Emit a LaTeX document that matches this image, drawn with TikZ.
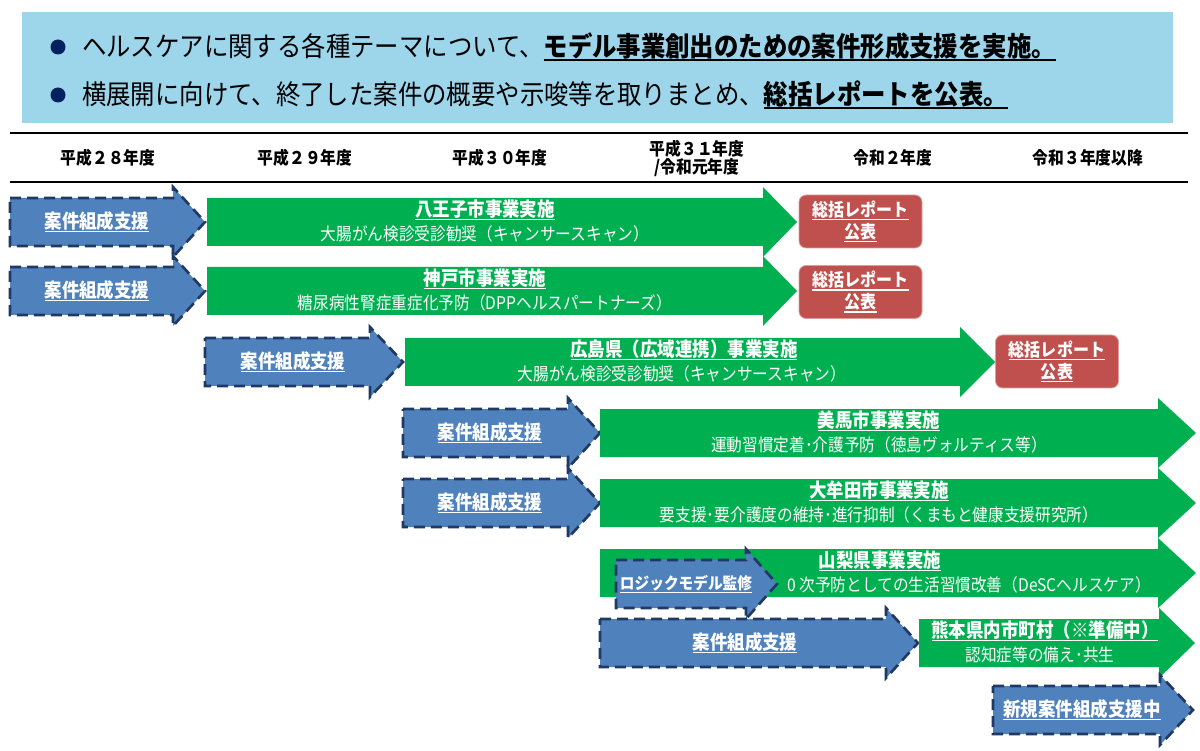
\documentclass[tikz,border=0pt]{standalone}
\usepackage{fontspec}
\setmainfont[FakeStretch=0.9]{Noto Sans CJK JP}

\definecolor{topblue}{RGB}{157,213,234}
\definecolor{bulletnavy}{RGB}{0,32,96}
\definecolor{stepblue}{RGB}{79,129,189}
\definecolor{dashnavy}{RGB}{31,56,100}
\definecolor{implgreen}{RGB}{0,176,80}
\definecolor{reportred}{RGB}{192,80,77}

% thick underline
\newsavebox{\ulnbox}
\newcommand{\uln}[1]{\leavevmode\sbox{\ulnbox}{#1}\rlap{\vrule height -2.6pt depth 4pt width \wd\ulnbox}\usebox{\ulnbox}}

\tikzset{
	supportarrow/.style={fill=stepblue, draw=dashnavy, line width=2.6pt, dash pattern=on 11pt off 6pt},
	implarrow/.style={fill=implgreen},
	reportbox/.style={fill=reportred, draw=reportred!55!white, line width=0.8pt, rounded corners=7pt,
		minimum width=123pt, minimum height=53pt, inner sep=0pt, align=center, text=white,
		font=\bfseries\fontsize{17.8}{22}\selectfont},
	yearhead/.style={inner sep=0pt, align=center, font=\bfseries\fontsize{17.5}{18}\selectfont},
	supportlbl/.style={inner sep=0pt, text=white, font=\bfseries\fontsize{19.4}{20}\selectfont},
	titlelbl/.style={inner sep=0pt, text=white, font=\bfseries\fontsize{19.4}{20}\selectfont},
	sublbl/.style={inner sep=0pt, text=white, font=\fontsize{17.4}{18}\selectfont},
	leadtext/.style={inner sep=0pt, anchor=west, font=\fontsize{27.1}{28}\selectfont}
}

% arrow: style, x start, x head base, x tip, y middle
\newcommand{\timearrow}[5]{%
	\path[#1] (#2,#5-24) -- (#3,#5-24) -- (#3,#5-35) -- (#4,#5) -- (#3,#5+35) -- (#3,#5+24) -- (#2,#5+24) -- cycle;}

\begin{document}
\begin{tikzpicture}[x=1pt, y=-1pt]
	
	\useasboundingbox (0,0) rectangle (1200,751);
	
	% summary box
	\fill[topblue] (22,12) rectangle (1173,123);
	\fill[bulletnavy] (58,47) circle (7.5);
	\fill[bulletnavy] (58,95) circle (7.5);
	\node[leadtext] (lead1) at (82,47) {ヘルスケアに関する各種テーマについて、\textbf{\uln{モデル事業創出のための案件形成支援を実施。}}};
	\node[leadtext] (lead2) at (82,95) {横展開に向けて、終了した案件の概要や示唆等を取りまとめ、\textbf{\uln{総括レポートを公表。}}};
	
	% year header
	\draw[line width=1.6pt] (10,133) -- (1188,133);
	\draw[line width=1.6pt] (10,182) -- (1188,182);
	\node[yearhead] (h28) at (108,158) {平成２８年度};
	\node[yearhead] (h29) at (305,158) {平成２９年度};
	\node[yearhead] (h30) at (500,158) {平成３０年度};
	\node[yearhead] (h31) at (697,158) {平成３１年度\\/令和元年度};
	\node[yearhead] (r2) at (893,158) {令和２年度};
	\node[yearhead] (r3) at (1088,158) {令和３年度以降};
	
	% row 1
	\timearrow{supportarrow}{10}{173}{205}{222}
	\timearrow{implarrow}{207}{763}{797}{222}
	\node[supportlbl] (sup1) at (97,222) {\uln{案件組成支援}};
	\node[titlelbl] (hachioji) at (485,210) {\uln{八王子市事業実施}};
	\node[sublbl] (hachiojisub) at (485,234) {大腸がん検診受診勧奨（キャンサースキャン）};
	\node[reportbox] (report1) at (860.5,221.5) {\uln{総括レポート}\\\uln{公表}};
	
	% row 2
	\timearrow{supportarrow}{10}{173}{205}{291}
	\timearrow{implarrow}{207}{763}{797}{291}
	\node[supportlbl] (sup2) at (97,291) {\uln{案件組成支援}};
	\node[titlelbl] (kobe) at (485,279) {\uln{神戸市事業実施}};
	\node[sublbl] (kobesub) at (485,303) {糖尿病性腎症重症化予防（DPPヘルスパートナーズ）};
	\node[reportbox] (report2) at (860.5,292) {\uln{総括レポート}\\\uln{公表}};
	
	% row 3
	\timearrow{supportarrow}{205}{370}{403}{362}
	\timearrow{implarrow}{405}{960}{995}{362}
	\node[supportlbl] (sup3) at (293,362) {\uln{案件組成支援}};
	\node[titlelbl] (hiroshima) at (684,350) {\uln{広島県（広域連携）事業実施}};
	\node[sublbl] (hiroshimasub) at (682,374) {大腸がん検診受診勧奨（キャンサースキャン）};
	\node[reportbox] (report3) at (1057,361.5) {\uln{総括レポート}\\\uln{公表}};
	
	% row 4
	\timearrow{supportarrow}{403}{568}{600}{433}
	\timearrow{implarrow}{600}{1158}{1196}{433}
	\node[supportlbl] (sup4) at (490,433) {\uln{案件組成支援}};
	\node[titlelbl] (mima) at (879,421) {\uln{美馬市事業実施}};
	\node[sublbl] (mimasub) at (879,445) {運動習慣定着･介護予防（徳島ヴォルティス等）};
	
	% row 5
	\timearrow{supportarrow}{403}{568}{600}{503}
	\timearrow{implarrow}{600}{1158}{1196}{503}
	\node[supportlbl] (sup5) at (490,503) {\uln{案件組成支援}};
	\node[titlelbl] (omuta) at (879,491) {\uln{大牟田市事業実施}};
	\node[sublbl] (omutasub) at (879,515) {要支援･要介護度の維持･進行抑制（くまもと健康支援研究所）};
	
	% row 6
	\timearrow{implarrow}{600}{1158}{1196}{573}
	\timearrow{supportarrow}{616}{746}{777}{584}
	\node[supportlbl, font=\bfseries\fontsize{16.3}{18}\selectfont] (logic) at (686,584) {\uln{ロジックモデル監修}};
	\node[titlelbl] (yamanashi) at (880,561) {\uln{山梨県事業実施}};
	\node[sublbl] (yamanashisub) at (969,585) {0 次予防としての生活習慣改善（DeSCヘルスケア）};
	
	% row 7
	\timearrow{supportarrow}{600}{886}{918}{643}
	\timearrow{implarrow}{919}{1159}{1195}{643}
	\node[supportlbl] (sup7) at (745,643) {\uln{案件組成支援}};
	\node[titlelbl] (kumamoto) at (1045,631) {\uln{熊本県内市町村（※準備中）}};
	\node[sublbl] (kumamotosub) at (1040,655) {認知症等の備え･共生};
	
	% row 8
	\timearrow{supportarrow}{993}{1160}{1193}{710}
	\node[supportlbl] (newsup) at (1082,710) {\uln{新規案件組成支援中}};
	
\end{tikzpicture}
\end{document}
